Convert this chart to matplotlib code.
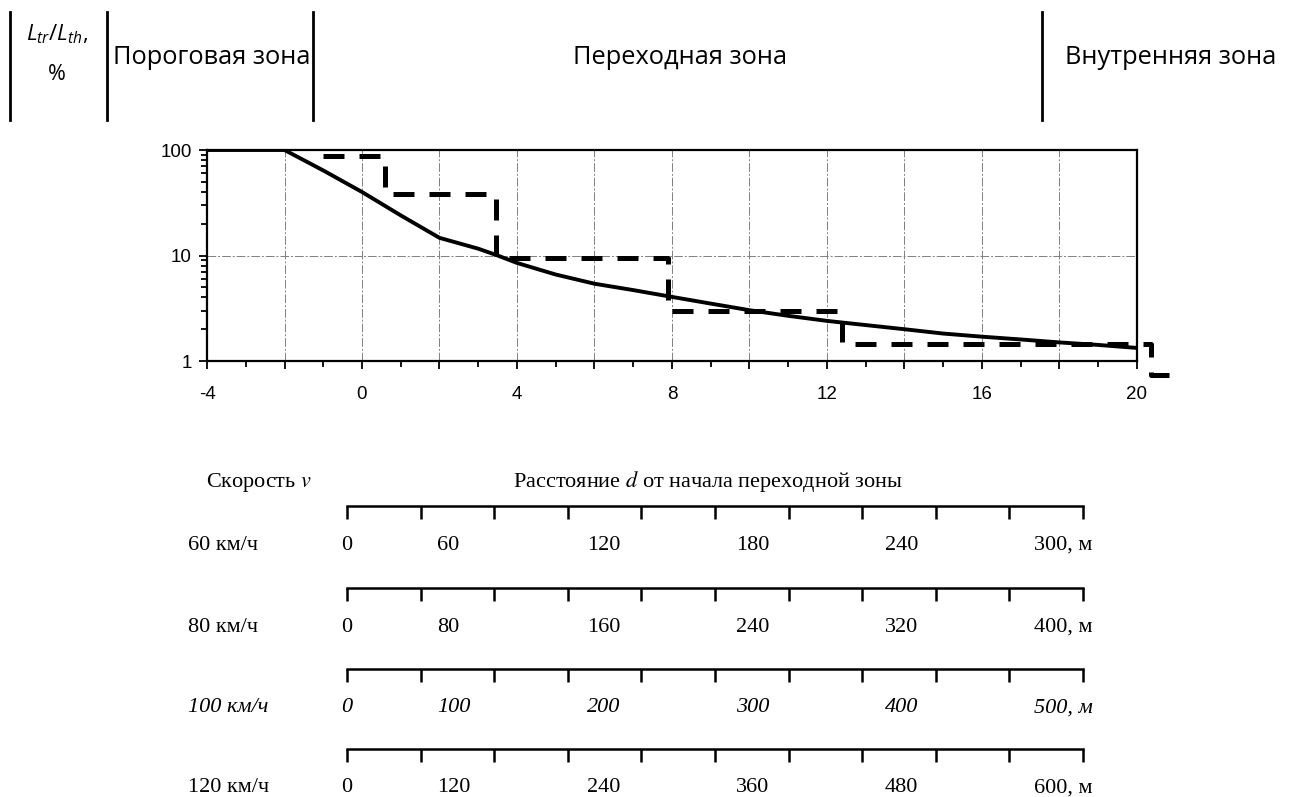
import matplotlib
matplotlib.use('Agg')
import matplotlib.pyplot as plt
from matplotlib.lines import Line2D
from matplotlib.ticker import MultipleLocator, FixedLocator, FuncFormatter, LogLocator, NullFormatter

plt.rcParams['font.family'] = ['Liberation Sans', 'DejaVu Sans']
plt.rcParams['mathtext.fontset'] = 'custom'
plt.rcParams['mathtext.rm'] = 'Open Sans'
plt.rcParams['mathtext.it'] = 'Open Sans:italic'

W, H = 1313, 797

# --- data ---
solid_x = [-4, -2, -1, 0, 1, 2, 3, 3.5, 4, 5, 6, 7, 8, 9, 10, 11, 12, 13, 14, 15, 16, 17, 18, 19, 20]
solid_y = [100, 100, 64, 40, 24, 14.7, 11.6, 10, 8.5, 6.6, 5.4, 4.7, 4.05, 3.5, 3.03, 2.68, 2.4, 2.19, 2.0, 1.82, 1.7, 1.6, 1.5, 1.42, 1.33]

step_x = [-1, 0.6, 0.6, 3.45, 3.45, 7.9, 7.9, 12.4, 12.4, 20.35, 20.35, 20.85]
step_y = [88, 88, 38, 38, 9.5, 9.5, 3.0, 3.0, 1.45, 1.45, 0.74, 0.74]

zone_names = ['Пороговая зона', 'Переходная зона', 'Внутренняя зона']

speed_names = ['60 км/ч', '80 км/ч', '100 км/ч', '120 км/ч']
max_dist = [300, 400, 500, 600]
labels_60 = ['0', '60', '120', '180', '240', '300, м']
labels_80 = ['0', '80', '160', '240', '320', '400, м']
labels_100 = ['0', '100', '200', '300', '400', '500, м']
labels_120 = ['0', '120', '240', '360', '480', '600, м']
row_labels = [labels_60, labels_80, labels_100, labels_120]


def fx(px):
    return px / W


def fy(py):
    return 1 - py / H


fig = plt.figure(figsize=(W / 100, H / 100), dpi=100)

# --- header strip ---
header_x = [10, 107, 313, 1042]
for hx in header_x:
    fig.add_artist(Line2D([fx(hx), fx(hx)], [fy(12), fy(120)], color='black',
                          lw=2, transform=fig.transFigure))

hfont = dict(fontfamily='Open Sans', fontsize=18.3, va='baseline')
fig.text(fx(57), fy(40), r'$L_{tr}/L_{th}$,', ha='center', fontfamily='Open Sans',
         fontsize=16, math_fontfamily='custom')
fig.text(fx(57), fy(80), '%', ha='center', fontfamily='Open Sans', fontsize=15.5)
fig.text(fx(113), fy(64), zone_names[0], ha='left', **hfont)
fig.text(fx(680), fy(64), zone_names[1], ha='center', **hfont)
fig.text(fx(1065), fy(64), zone_names[2], ha='left', **hfont)

# --- main chart ---
ax = fig.add_axes([fx(207), fy(361), (1137 - 207) / W, (361 - 150) / H])
ax.set_yscale('log')
ax.set_xlim(-4, 20)
ax.set_ylim(1, 100)

ax.plot(solid_x, solid_y, color='black', lw=2.8, solid_joinstyle='round', zorder=3)
ax.plot(step_x, step_y, color='black', lw=3.6, dashes=(4.2, 3), clip_on=False, zorder=4)

ax.xaxis.set_major_locator(MultipleLocator(2))
ax.xaxis.set_minor_locator(MultipleLocator(1))
ax.xaxis.set_major_formatter(FuncFormatter(lambda v, p: f'{v:g}' if v % 4 == 0 else ''))
ax.yaxis.set_major_locator(FixedLocator([1, 10, 100]))
ax.yaxis.set_major_formatter(FuncFormatter(lambda v, p: f'{v:g}'))
ax.yaxis.set_minor_locator(LogLocator(subs=range(2, 10)))
ax.yaxis.set_minor_formatter(NullFormatter())

ax.tick_params(which='both', direction='out', width=1.3, labelsize=13.5)
ax.tick_params(which='major', length=6)
ax.tick_params(which='minor', length=4)
ax.tick_params(axis='x', pad=12)
ax.tick_params(axis='y', pad=5)
ax.grid(True, which='major', color='0.5', lw=0.7, ls=(0, (9, 2, 2, 2)))
for s in ax.spines.values():
    s.set_linewidth(1.6)

# --- distance scales ---
fig.text(fx(206), fy(487), 'Скорость $v$', fontfamily='Liberation Serif', fontsize=16,
         math_fontfamily='stix')
fig.text(fx(513), fy(487), 'Расстояние $d$ от начала переходной зоны',
         fontfamily='Liberation Serif', fontsize=16, math_fontfamily='stix')

row_bar_y = [506, 588, 669, 749]
label_pos = [-0.008, 0.122, 0.326, 0.529, 0.731, 0.933]
for i, (name, dmax, labels) in enumerate(zip(speed_names, max_dist, row_labels)):
    by = row_bar_y[i]
    sax = fig.add_axes([fx(347), fy(by + 60), 736 / W, 60 / H])
    sax.set_xlim(0, dmax)
    sax.set_ylim(0, 1)
    sax.patch.set_visible(False)
    for side in ['left', 'right', 'bottom']:
        sax.spines[side].set_visible(False)
    sax.spines['top'].set_linewidth(1.8)
    sax.xaxis.set_ticks_position('top')
    sax.xaxis.set_major_locator(MultipleLocator(dmax / 10))
    sax.tick_params(axis='x', direction='in', length=9.5, width=1.8,
                    labeltop=False, labelbottom=False)
    sax.set_yticks([])
    style = 'italic' if name.startswith('100') else 'normal'
    tfont = dict(fontfamily='Liberation Serif', fontsize=16, style=style,
                 va='center', ha='left', transform=sax.transAxes, clip_on=False)
    sax.text((188 - 347) / 736, 0.35, name, **tfont)
    for lbl, pos in zip(labels, label_pos):
        sax.text(pos, 0.35, lbl, **tfont)

fig.savefig('out.png', dpi=100)
